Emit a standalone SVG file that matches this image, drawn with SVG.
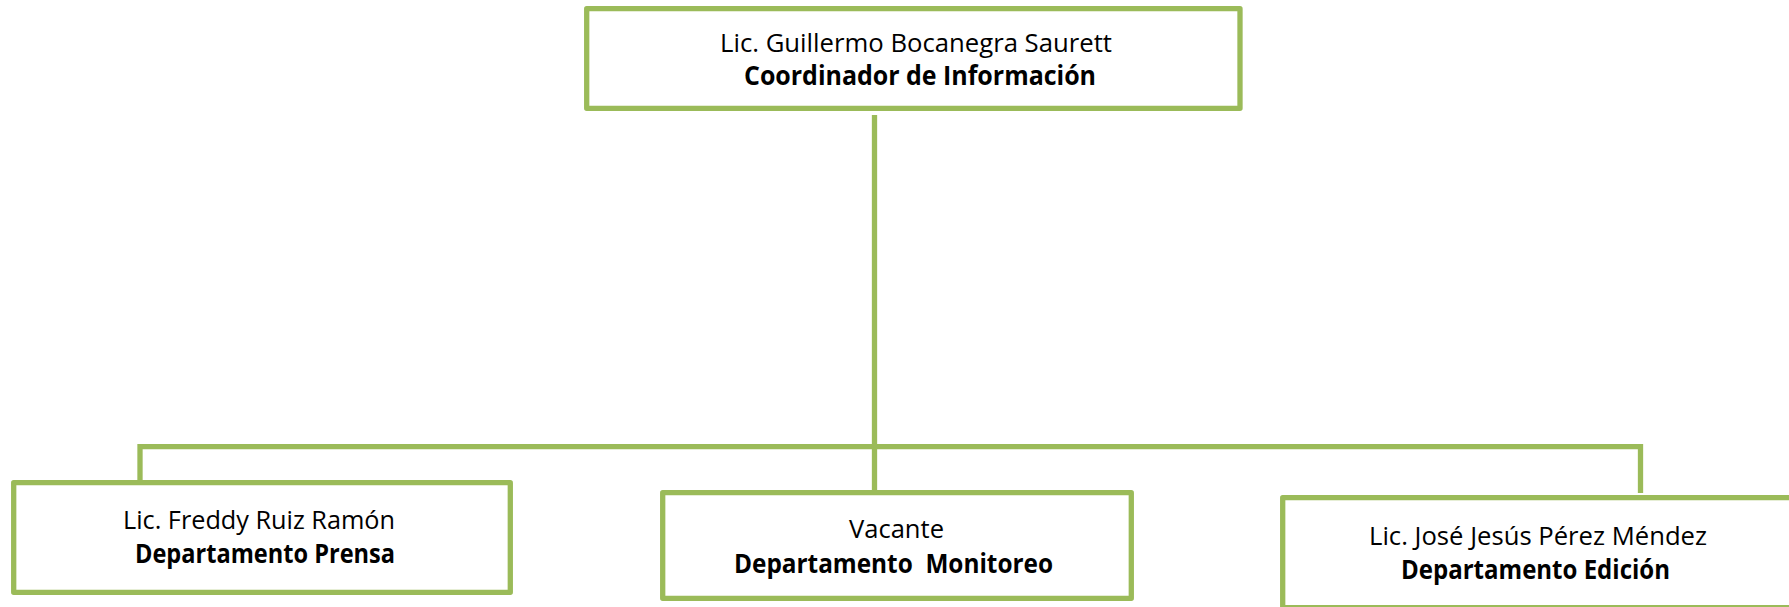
<svg xmlns="http://www.w3.org/2000/svg" width="1789" height="607" viewBox="0 0 1789 607">
<style>
.box{fill:#FFFFFF;stroke:#9BBB59;stroke-width:5.3;stroke-linejoin:round}
.conn{fill:none;stroke:#9BBB59;stroke-width:5.3;stroke-linejoin:miter;stroke-linecap:butt}
.name{font-family:"Open Sans","Liberation Sans",sans-serif;font-size:26px;fill:#000000;text-anchor:middle}
.title{font-family:"Open Sans","Liberation Sans",sans-serif;font-size:26px;font-weight:bold;fill:#000000;text-anchor:middle;white-space:pre}
</style>
<rect x="0" y="0" width="1789" height="607" fill="#FFFFFF"/>
<g id="connectors">
<line class="conn" x1="874.5" y1="115" x2="874.5" y2="492"/>
<path class="conn" d="M140,491 V446.7 H1640.5 V493"/>
</g>
<g id="coordinador">
<rect class="box" x="586.7" y="8.7" width="653.3" height="99.6"/>
<text class="name" x="916" y="52" textLength="392" lengthAdjust="spacingAndGlyphs">Lic. Guillermo Bocanegra Saurett</text>
<text class="title" x="920" y="85" textLength="352" lengthAdjust="spacingAndGlyphs">Coordinador de Información</text>
</g>
<g id="prensa">
<rect class="box" x="13.7" y="482.7" width="496.6" height="109.6"/>
<text class="name" x="259" y="529" textLength="272" lengthAdjust="spacingAndGlyphs">Lic. Freddy Ruiz Ramón</text>
<text class="title" x="265" y="563" textLength="260" lengthAdjust="spacingAndGlyphs">Departamento Prensa</text>
</g>
<g id="monitoreo">
<rect class="box" x="662.7" y="492.7" width="468.6" height="105.6"/>
<text class="name" x="896.5" y="538" textLength="95" lengthAdjust="spacingAndGlyphs">Vacante</text>
<text class="title" x="893.5" y="573" textLength="319" lengthAdjust="spacingAndGlyphs" xml:space="preserve">Departamento  Monitoreo</text>
</g>
<g id="edicion">
<rect class="box" x="1282.7" y="497.7" width="600" height="110"/>
<text class="name" x="1538" y="545" textLength="338" lengthAdjust="spacingAndGlyphs">Lic. José Jesús Pérez Méndez</text>
<text class="title" x="1535.5" y="579" textLength="269" lengthAdjust="spacingAndGlyphs">Departamento Edición</text>
</g>
</svg>
